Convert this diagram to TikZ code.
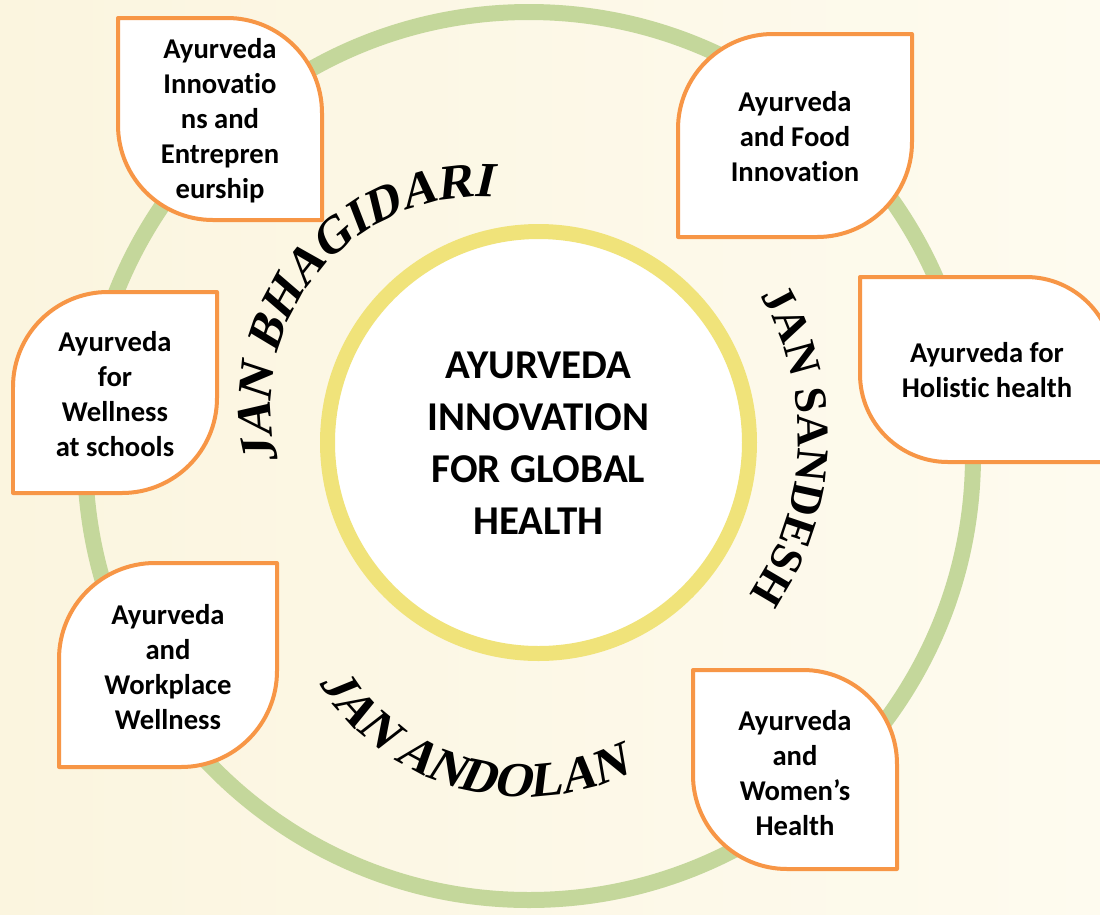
\documentclass[tikz,border=0pt]{standalone}
\usepackage{fontspec}
\setmainfont{Carlito}[Ligatures={NoCommon}]
\newfontfamily\arcserif{Liberation Serif Bold}
\newfontfamily\arcbi{Liberation Serif Bold}[FakeSlant=0.22]
\usetikzlibrary{decorations.text}
\definecolor{bgleft}{HTML}{FBF5DF}
\definecolor{bgright}{HTML}{FEFBEF}
\definecolor{ringgreen}{HTML}{C4D79B}
\definecolor{ringyellow}{HTML}{F0E37A}
\definecolor{leaforange}{HTML}{F79646}
\newcommand\fontBH{\arcbi\fontsize{28}{30}\selectfont}
\newcommand\fontSD{\arcserif\fontsize{26}{30}\selectfont}
\newcommand\fontAD{\arcbi\fontsize{28}{30}\selectfont}
\newcommand\nolig{\kern0pt }
% leaf with top-right and bottom-left rounded: L T R B r (image coords)
\newcommand\leafA[5]{\path[leafline] (#1,-#2) -- ({#3-#5},-#2) arc[start angle=90,end angle=0,radius=#5] -- (#3,-#4) -- ({#1+#5},-#4) arc[start angle=270,end angle=180,radius=#5] -- cycle;}
% leaf with top-left and bottom-right rounded
\newcommand\leafB[5]{\path[leafline] (#1,{-#2-#5}) arc[start angle=180,end angle=90,radius=#5] -- (#3,-#2) -- (#3,{-#4+#5}) arc[start angle=0,end angle=-90,radius=#5] -- (#1,-#4) -- cycle;}
\begin{document}
\begin{tikzpicture}[x=0.02cm,y=0.02cm,
  leafline/.style={draw=leaforange, line width=0.08cm, fill=white, line join=round},
  boxtxt/.style={align=center, font=\bfseries\fontsize{16.3}{19.9}\selectfont, inner sep=0pt},
  coretxt/.style={align=center, font=\bfseries\fontsize{23.3}{29.6}\selectfont, inner sep=0pt},
  arctext/.style={decorate, decoration={text along path, text align=center, text={#1}}}
]
\useasboundingbox (0,0) rectangle (1100,-914);
\shade[left color=bgleft, right color=bgright] (0,0) rectangle (1100,-914);
\clip (0,0) rectangle (1100,-914);

% outer green ring
\draw[ringgreen, line width=0.32cm] (529,-456) circle[radius=444];

% leaf boxes
\leafA{118}{18}{322}{220}{95}
\leafB{678}{34}{912}{237}{95}
\leafA{860}{277}{1114}{462}{88}
\leafB{13}{292}{217}{493}{95}
\leafB{59}{563}{277}{767}{96}
\leafA{693}{670}{897}{869}{94}

% inner circle
\draw[ringyellow, line width=0.3cm, fill=white] (538.5,-442.5) circle[radius=211];

% texts in boxes
\node[boxtxt] (innov) at (220,-121) {Ayurveda\\Innovat\nolig io\\ns and\\Entrepren\\eurship};
\node[boxtxt] (food) at (795,-137) {Ayurveda\\and Food\\Innovat\nolig ion};
\node[boxtxt] (holistic) at (987,-370) {Ayurveda for\\Holist\nolig ic health};
\node[boxtxt] (schools) at (115,-394) {Ayurveda\\for\\Wellness\\at schools};
\node[boxtxt] (workplace) at (168,-667) {Ayurveda\\and\\Workplace\\Wellness};
\node[boxtxt] (women) at (795,-773) {Ayurveda\\and\\Women’s\\Health};

% central text
\node[coretxt] (core) at (538.5,-443) {AYURVEDA\\INNOVATION\\FOR GLOBAL\\HEALTH};

% arc texts
\path[arctext={|\fontBH|JAN BHAGIDARI}] (480,-406) ++(195:209) arc[start angle=195, end angle=87, radius=209];
\path[arctext={|\fontSD|JAN SANDESH}] (516,-437) ++(31:282) arc[start angle=31, end angle=-35, radius=282];
\path[arctext={|\fontAD|JAN ANDOLAN}] (524,-555) ++(211:242) arc[start angle=211, end angle=297, radius=242];
\end{tikzpicture}
\end{document}
